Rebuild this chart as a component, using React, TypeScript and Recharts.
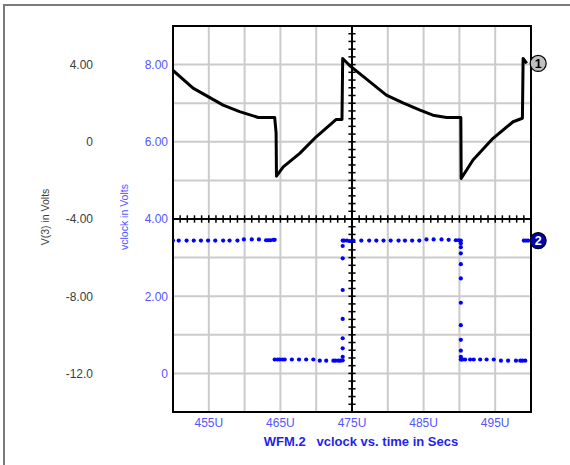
import {
  CartesianGrid,
  ComposedChart,
  Line,
  ReferenceArea,
  ReferenceDot,
  ReferenceLine,
  Scatter,
  XAxis,
  YAxis,
} from "recharts";

// time values are in microseconds (the "U" on the axis)
const v3Time = [
  450, 452.8, 454.9, 457.0, 459.3, 461.9, 464.2, 464.4, 464.45, 465.4, 467.7, 470.0,
  472.8, 473.6, 473.7, 474.7, 476.6, 479.8, 482.2, 484.5, 486.3, 488.2, 490.2, 490.25,
  491.9, 494.7, 497.5, 498.8, 498.9, 499.4,
];
const v3Value = [
  3.7, 2.78, 2.34, 1.9, 1.56, 1.26, 1.26, 0.46, -1.78, -1.3, -0.6, 0.26,
  1.16, 1.16, 4.32, 3.94, 3.38, 2.42, 2.0, 1.64, 1.38, 1.26, 1.26, -1.9,
  -0.94, 0.18, 1.04, 1.22, 4.32, 4.06,
];

const vclockTime = [
  // high
  450, 450.8, 451.9, 452.9, 453.9, 454.9, 455.9, 457.0, 457.9, 459.0, 459.9, 461.0,
  462.0, 463.0, 463.3, 463.6, 464.0, 464.2,
  // low
  464.2, 464.6, 464.9, 465.3, 465.6, 466.6, 467.6, 468.6, 469.6, 470.5, 471.4, 472.4,
  472.7, 473.1, 473.4, 473.7,
  // rising edge
  473.7, 473.7, 473.7, 473.7, 473.7, 473.7, 473.7, 473.7,
  // high
  473.9, 474.3, 474.7, 475.2, 476.3, 477.4, 478.4, 479.4, 480.4, 481.5, 482.4, 483.4,
  484.4, 485.4, 486.4, 487.5, 488.5, 489.5, 489.9, 490.2,
  // falling edge
  490.2, 490.2, 490.2, 490.2, 490.2, 490.2, 490.2, 490.2, 490.2, 490.2,
  // low
  490.2, 490.3, 490.5, 490.8, 491.5, 492.0, 492.9, 493.8, 494.8, 495.8, 496.8, 497.9,
  498.5, 498.8, 499.2,
  // high again
  499.0, 499.3, 499.6,
];
const vclockValue = [
  3.44, 3.44, 3.44, 3.44, 3.44, 3.44, 3.44, 3.44, 3.44, 3.44, 3.47, 3.47,
  3.47, 3.45, 3.45, 3.45, 3.46, 3.46,
  0.36, 0.36, 0.36, 0.36, 0.36, 0.36, 0.36, 0.36, 0.36, 0.33, 0.33, 0.33,
  0.33, 0.33, 0.33, 0.34,
  0.43, 0.65, 0.91, 1.41, 2.16, 2.98, 3.3, 3.44,
  3.44, 3.44, 3.43, 3.44, 3.44, 3.44, 3.44, 3.44, 3.44, 3.44, 3.44, 3.44,
  3.44, 3.47, 3.47, 3.47, 3.46, 3.45, 3.45, 3.44,
  3.37, 3.27, 3.11, 2.83, 2.46, 1.83, 1.25, 0.87, 0.59, 0.43,
  0.36, 0.36, 0.36, 0.36, 0.36, 0.36, 0.36, 0.36, 0.36, 0.33, 0.33, 0.33,
  0.33, 0.33, 0.33,
  3.44, 3.44, 3.44,
];

const timeTicks = [450, 455, 460, 465, 470, 475, 480, 485, 490, 495, 500];
const timeLabelTicks = [455, 465, 475, 485, 495];
const vclockTicks = [0, 1, 2, 3, 4, 5, 6, 7, 8];
const vclockLabels: Record<number, string> = { 0: "0", 2: "2.00", 4: "4.00", 6: "6.00", 8: "8.00" };
const v3Ticks = [4, 0, -4, -8, -12];
const v3Labels = ["4.00", "0", "-4.00", "-8.00", "-12.0"];

const v3Data = v3Time.map((t, i) => ({ t, v3: v3Value[i] }));
const vclockData = vclockTime.map((t, i) => ({ t, v: vclockValue[i] }));

// crosshair tick marks
const crossXTicks = Array.from({ length: 49 }, (_, i) => 451 + i);
const crossYTicks = Array.from({ length: 49 }, (_, i) => Math.round((-0.8 + i * 0.2) * 10) / 10);

const FONT = "'Liberation Sans', Arial, sans-serif";
const BLUE_TEXT = "#5555ff";

function TimeTick({ x, payload }: any) {
  if (!timeLabelTicks.includes(payload.value)) return <g />;
  return (
    <text x={x} y={427} textAnchor="middle" fontSize={12} fill={BLUE_TEXT} fontFamily={FONT}>
      {`${payload.value}U`}
    </text>
  );
}

function VclockTick({ y, payload }: any) {
  const label = vclockLabels[payload.value];
  if (!label) return <g />;
  return (
    <text x={168} y={y} dy="0.36em" textAnchor="end" fontSize={12} fill={BLUE_TEXT} fontFamily={FONT}>
      {label}
    </text>
  );
}

function V3Tick({ y, payload }: any) {
  const label = v3Labels[v3Ticks.indexOf(payload.value)];
  return (
    <text x={93} y={y} dy="0.36em" textAnchor="end" fontSize={12} fill="#3c3c3c" fontFamily={FONT}>
      {label}
    </text>
  );
}

function Marker({ cx, cy, num, fill, color }: any) {
  return (
    <g>
      <circle cx={cx} cy={cy} r={8} fill={fill} stroke="#000" strokeWidth={1.2} />
      <text x={cx} y={cy + 4.5} textAnchor="middle" fontSize={12.5} fontWeight="bold" fill={color} fontFamily={FONT}>
        {num}
      </text>
    </g>
  );
}

const Dot = (p: any) => <circle cx={p.cx} cy={p.cy} r={2.1} fill="#0000ff" />;

export default function App() {
  return (
    <div
      style={{
        position: "absolute",
        left: 0,
        top: 0,
        width: 570,
        height: 465,
        overflow: "hidden",
        background: "#fff",
        fontFamily: FONT,
      }}
    >
      <div
        style={{
          position: "absolute",
          left: 3,
          top: 4,
          width: 700,
          height: 700,
          borderLeft: "2px solid #7a7a7a",
          borderTop: "2px solid #7a7a7a",
        }}
      />
      <div style={{ position: "absolute", left: 0, top: 0 }}>
        <ComposedChart width={570} height={465} margin={{ top: 26, right: 39, bottom: 13, left: 13 }}>
          <CartesianGrid yAxisId="vc" stroke="#cbcbcb" strokeWidth={2} />
          <XAxis
            type="number"
            dataKey="t"
            domain={[450, 500]}
            ticks={timeTicks}
            allowDataOverflow
            height={40}
            axisLine={false}
            tickLine={false}
            tick={<TimeTick />}
          />
          <YAxis
            yAxisId="vc"
            type="number"
            domain={[-1, 9]}
            ticks={vclockTicks}
            allowDataOverflow
            width={80}
            axisLine={false}
            tickLine={false}
            tick={<VclockTick />}
          />
          <YAxis
            yAxisId="v3"
            type="number"
            domain={[-14, 6]}
            ticks={v3Ticks}
            allowDataOverflow
            width={80}
            axisLine={false}
            tickLine={false}
            tick={<V3Tick />}
          />
          <ReferenceArea
            yAxisId="vc"
            x1={450}
            x2={500}
            y1={-1}
            y2={9}
            fill="none"
            fillOpacity={0}
            stroke="#000"
            strokeWidth={2}
          />
          <ReferenceLine yAxisId="vc" y={4} stroke="#000" strokeWidth={2} />
          <ReferenceLine yAxisId="vc" x={475} stroke="#000" strokeWidth={2} />
          {crossXTicks.map((t) => (
            <ReferenceLine
              key={`cx${t}`}
              yAxisId="vc"
              segment={[{ x: t, y: 3.905 }, { x: t, y: 4.095 }]}
              stroke="#000"
              strokeWidth={1.5}
            />
          ))}
          {crossYTicks.map((v) => (
            <ReferenceLine
              key={`cy${v}`}
              yAxisId="vc"
              segment={[{ x: 474.5, y: v }, { x: 475.5, y: v }]}
              stroke="#000"
              strokeWidth={1.5}
            />
          ))}
          <Line
            yAxisId="v3"
            data={v3Data}
            dataKey="v3"
            type="linear"
            stroke="#000"
            strokeWidth={3}
            strokeLinejoin="round"
            dot={false}
            activeDot={false}
            isAnimationActive={false}
          />
          <Scatter
            yAxisId="vc"
            data={vclockData}
            dataKey="v"
            shape={<Dot />}
            isAnimationActive={false}
          />
          <ReferenceDot
            yAxisId="v3"
            x={501}
            y={v3Value[v3Value.length - 1]}
            ifOverflow="visible"
            shape={(p: any) => <Marker {...p} num="1" fill="#c0c0c0" color="#000" />}
          />
          <ReferenceDot
            yAxisId="vc"
            x={501}
            y={vclockValue[vclockValue.length - 1]}
            ifOverflow="visible"
            shape={(p: any) => <Marker {...p} num="2" fill="#0000b4" color="#fff" />}
          />
          <text
            x={45.5}
            y={217}
            transform="rotate(-90 45.5 217)"
            textAnchor="middle"
            dy="0.36em"
            fontSize={10.5}
            fill="#3c3c3c"
            fontFamily={FONT}
          >
            V(3) in Volts
          </text>
          <text
            x={124.5}
            y={217}
            transform="rotate(-90 124.5 217)"
            textAnchor="middle"
            dy="0.36em"
            fontSize={10.5}
            fill={BLUE_TEXT}
            fontFamily={FONT}
          >
            vclock in Volts
          </text>
          <text
            x={361}
            y={445.5}
            textAnchor="middle"
            fontSize={13}
            fontWeight="bold"
            fill="#1f1fee"
            fontFamily={FONT}
            style={{ whiteSpace: "pre" }}
          >
            {"WFM.2   vclock vs. time in Secs"}
          </text>
        </ComposedChart>
      </div>
    </div>
  );
}
